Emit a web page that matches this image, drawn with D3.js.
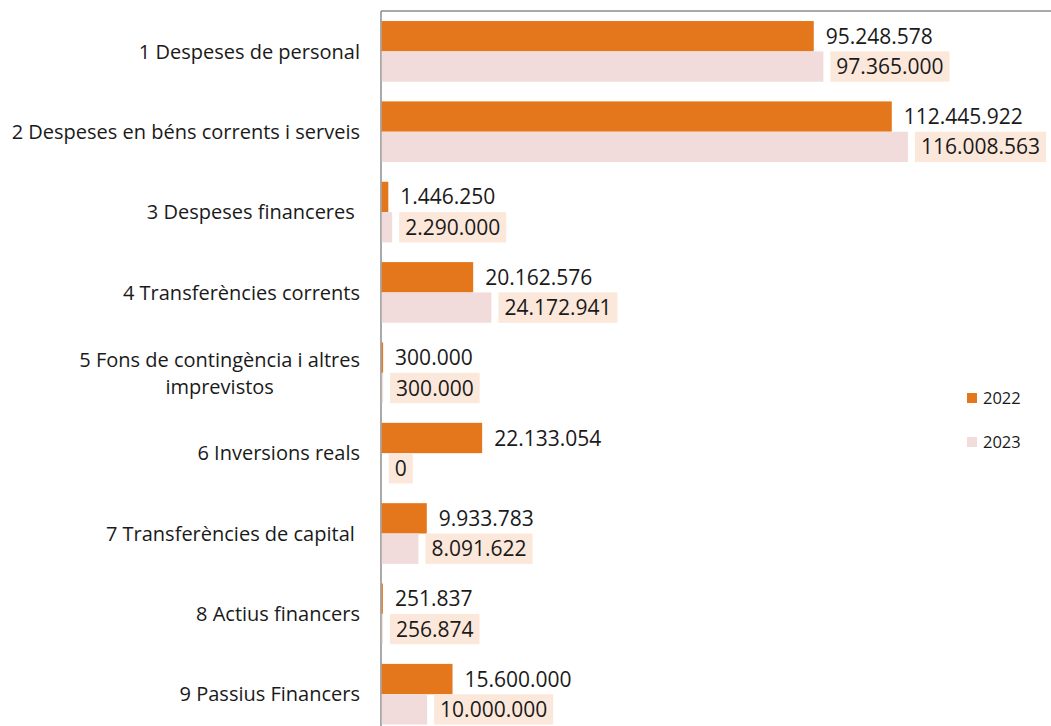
<!DOCTYPE html>
<html>
<head>
<meta charset="utf-8">
<script src="https://cdn.jsdelivr.net/npm/d3@7"></script>
<style>
  body { margin: 0; background: #fff; }
  text { font-family: "Open Sans", "Noto Sans", sans-serif; fill: #1a1a1a; }
</style>
</head>
<body>
<svg id="chart" width="1051" height="726"></svg>
<script>
var categories = [
  ["1 Despeses de personal"],
  ["2 Despeses en béns corrents i serveis"],
  ["3 Despeses financeres "],
  ["4 Transferències corrents"],
  ["5 Fons de contingència i altres", "imprevistos"],
  ["6 Inversions reals"],
  ["7 Transferències de capital "],
  ["8 Actius financers"],
  ["9 Passius Financers"]
];
var values2022 = [95248578, 112445922, 1446250, 20162576, 300000, 22133054, 9933783, 251837, 15600000];
var values2023 = [97365000, 116008563, 2290000, 24172941, 300000, 0, 8091622, 256874, 10000000];
var seriesNames = ["2022", "2023"];
var colors = ["#E4761C", "#F2DCDB"];
var labelBox = "#FCE8DA";

var svg = d3.select("#chart");
var left = 381, topY = 11, step = 80.4;
var width = 635;

var x = d3.scaleLinear().domain([0, 140000000]).range([0, width]);
var y = d3.scaleBand()
  .domain(d3.range(categories.length))
  .range([topY, topY + step * categories.length])
  .paddingInner(0.245).paddingOuter(0.125);

var fmt = function(v) { return d3.format(",")(v).replace(/,/g, "."); };

// axis lines (drawn first so tiny bars stay visible)
svg.append("line")
  .attr("x1", left).attr("x2", left)
  .attr("y1", topY).attr("y2", 726)
  .attr("stroke", "#8c8c8c").attr("stroke-width", 1.5);
svg.append("line")
  .attr("x1", left).attr("x2", 1051)
  .attr("y1", topY).attr("y2", topY)
  .attr("stroke", "#8c8c8c").attr("stroke-width", 1.5);

var bh = y.bandwidth() / 2;
var g = svg.append("g").attr("transform", "translate(" + (left + 0.75) + ",0)");

categories.forEach(function(c, i) {
  var vals = [values2022[i], values2023[i]];
  vals.forEach(function(v, s) {
    var by = y(i) + s * bh;
    g.append("rect")
      .attr("x", 0).attr("y", by)
      .attr("width", x(v)).attr("height", bh)
      .attr("fill", colors[s]);
  });
});

// labels
categories.forEach(function(c, i) {
  var vals = [values2022[i], values2023[i]];
  vals.forEach(function(v, s) {
    var cy = y(i) + s * bh + bh / 2;
    var tx = x(v) + (s == 0 ? 12 : 13);
    var t = g.append("text")
      .attr("x", tx).attr("y", cy)
      .attr("dy", "0.36em")
      .style("font-size", "21px")
      .text(fmt(v));
    if (s == 1) {
      var bb = t.node().getBBox();
      g.insert("rect", "text")
        .attr("x", bb.x - 6).attr("y", y(i) + bh)
        .attr("width", bb.width + 12).attr("height", bh)
        .attr("fill", labelBox);
    }
  });
});

// category labels
categories.forEach(function(c, i) {
  var cy = y(i) + y.bandwidth() / 2;
  var lh = 27;
  var t = svg.append("text")
    .attr("text-anchor", "end")
    .style("font-size", "20px")
    .style("white-space", "pre");
  if (c.length == 1) {
    t.attr("x", 360).attr("y", cy).attr("dy", "0.36em").text(c[0]);
  } else {
    t.attr("x", 360).attr("y", cy - lh / 2).attr("dy", "0.36em").text(c[0]);
    var w = t.node().getComputedTextLength();
    svg.append("text")
      .attr("text-anchor", "middle")
      .style("font-size", "20px")
      .attr("x", 360 - w / 2).attr("y", cy + lh / 2).attr("dy", "0.36em")
      .text(c[1]);
  }
});

// legend
seriesNames.forEach(function(n, s) {
  var ly = 398 + s * 44;
  svg.append("rect")
    .attr("x", 967).attr("y", ly - 5)
    .attr("width", 10).attr("height", 10)
    .attr("fill", colors[s]);
  svg.append("text")
    .attr("x", 983).attr("y", ly).attr("dy", "0.36em")
    .style("font-size", "16.5px")
    .text(n);
});
</script>
</body>
</html>
